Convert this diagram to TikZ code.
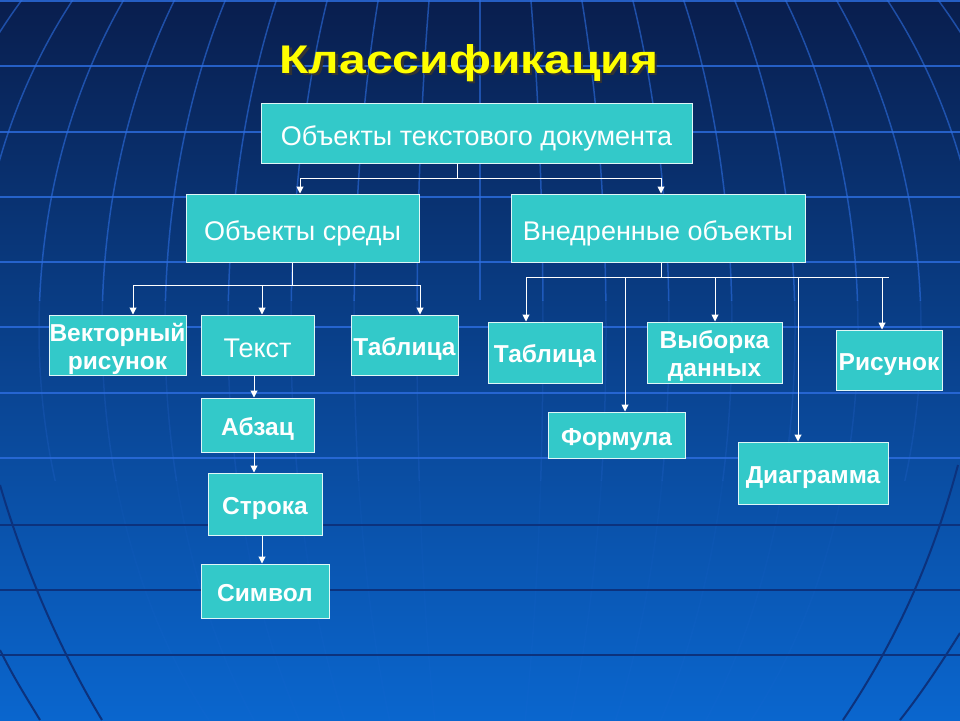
\documentclass[tikz,border=0pt]{standalone}
\usepackage{fontspec}
\setmainfont{Liberation Sans}
\usetikzlibrary{arrows.meta}

\definecolor{boxteal}{RGB}{51,201,201}
\definecolor{bgtop}{RGB}{9,30,78}
\definecolor{bgmid}{RGB}{9,62,148}
\definecolor{bgbot}{RGB}{10,102,206}
\definecolor{gridlight}{RGB}{45,110,225}
\definecolor{griddark}{RGB}{12,50,125}
\definecolor{titleyellow}{RGB}{255,255,0}

\begin{document}
\begin{tikzpicture}[x=1pt, y=-1pt,
  box/.style={draw=white!85!boxteal, line width=1pt, fill=boxteal, text=white,
    align=center, inner sep=0pt, text height=25pt, text depth=1pt,
    font=\fontsize{27}{30}\selectfont},
  bbox/.style={box, text height=22pt, text depth=2pt,
    font=\fontsize{24.5}{28}\selectfont\bfseries},
  bbox2/.style={bbox, text height=50pt},
  link/.style={draw=white, line width=1pt},
  arr/.style={link, -{Triangle[length=7pt,width=7pt]}},
  heading/.style={font=\fontsize{40}{44}\selectfont\bfseries, anchor=base, xscale=1.2}]

  % background
  \useasboundingbox (0,0) rectangle (960,720);
  \shade[top color=bgtop, middle color=bgmid, bottom color=bgbot] (0,0) rectangle (960,720);
  \begin{scope}
    \clip (0,0) rectangle (960,300);
    \foreach \k in {1,...,10} \draw[gridlight, line width=1.5pt, opacity=.6] (480,330) ellipse [x radius=63*\k, y radius=560];
    \draw[gridlight, line width=1.5pt, opacity=.6] (480,0) -- (480,300);
  \end{scope}
  \begin{scope}
    \clip (0,300) rectangle (960,480);
    \foreach \k in {1,...,8} \draw[gridlight, line width=1.5pt, opacity=.2] (480,330) ellipse [x radius=63*\k, y radius=560];
  \end{scope}
  \begin{scope}
    \clip (0,480) rectangle (960,720);
    \foreach \k in {1,...,6} \draw[gridlight, line width=1.5pt, opacity=.08] (480,330) ellipse [x radius=63*\k, y radius=560];
  \end{scope}
  \draw[griddark, line width=2pt] (0,485) .. controls (25,570) and (60,650) .. (102,720);
  \draw[griddark, line width=2pt] (0,650) .. controls (15,680) and (28,700) .. (40,720);
  \draw[griddark, line width=2pt] (958,465) .. controls (930,570) and (890,650) .. (843,720);
  \draw[griddark, line width=2pt] (960,633) .. controls (940,665) and (920,695) .. (900,720);
  \foreach \y in {1,66,132,197,262,327,393,458} \draw[gridlight, line width=2pt, opacity=.8] (0,\y) -- (960,\y);
  \foreach \y in {525,590,655} \draw[griddark, line width=2pt] (0,\y) -- (960,\y);

  % title
  \node[heading, text=titleyellow] (title) at (469,73)
    {\rlap{\hspace{2pt}\raisebox{-2pt}{\color{black!80}Классификация}}Классификация};

  % boxes
  \node[box, minimum width=431pt, minimum height=60pt] (top) at (476.5,133) {Объекты текстового документа};
  \node[box, minimum width=233pt, minimum height=68pt] (env) at (302.5,228) {Объекты среды};
  \node[box, minimum width=294pt, minimum height=68pt] (emb) at (658,228) {Внедренные объекты};

  \node[bbox2, minimum width=137pt, minimum height=60pt] (vec) at (117.5,345) {Векторный\\рисунок};
  \node[box, minimum width=113pt, minimum height=60pt] (txt) at (257.5,345) {Текст};
  \node[bbox, minimum width=107pt, minimum height=60pt] (tab1) at (404.5,345) {Таблица};
  \node[bbox, minimum width=113pt, minimum height=54pt] (par) at (257.5,425) {Абзац};
  \node[bbox, minimum width=114pt, minimum height=62pt] (line) at (265,504) {Строка};
  \node[bbox, minimum width=128pt, minimum height=54pt] (sym) at (265,591) {Символ};

  \node[bbox, minimum width=114pt, minimum height=61pt] (tab2) at (545,352.5) {Таблица};
  \node[bbox2, minimum width=135pt, minimum height=61pt] (sel) at (714.5,352.5) {Выборка\\данных};
  \node[bbox, minimum width=106pt, minimum height=60pt] (pic) at (889,360) {Рисунок};
  \node[bbox, minimum width=137pt, minimum height=46pt] (form) at (616.5,435) {Формула};
  \node[bbox, minimum width=150pt, minimum height=62pt] (diag) at (813,473) {Диаграмма};

  % root to second level
  \coordinate (r0) at (457,178);
  \coordinate (r1) at (300,178);
  \coordinate (r2) at (661,178);
  \draw[link] (top.south -| r0) -- (r0);
  \draw[link] (r1) -- (r2);
  \foreach \c/\n in {r1/env,r2/emb} \draw[arr] (\c) -- (\n.north -| \c);

  % under env
  \coordinate (s0) at (292,285);
  \coordinate (s1) at (133,285);
  \coordinate (s2) at (262,285);
  \coordinate (s3) at (420,285);
  \draw[link] (env.south -| s0) -- (s0);
  \draw[link] (s1) -- (s3);
  \foreach \c/\n in {s1/vec,s2/txt,s3/tab1} \draw[arr] (\c) -- (\n.north -| \c);

  % under emb
  \coordinate (e0) at (661,277);
  \coordinate (e1) at (526,277);
  \coordinate (e2) at (625,277);
  \coordinate (e3) at (715,277);
  \coordinate (e4) at (798,277);
  \coordinate (e5) at (882,277);
  \coordinate (e6) at (889,277);
  \draw[link] (emb.south -| e0) -- (e0);
  \draw[link] (e1) -- (e6);
  \foreach \c/\n in {e1/tab2,e2/form,e3/sel,e4/diag,e5/pic} \draw[arr] (\c) -- (\n.north -| \c);

  % text chain
  \coordinate (c1) at (254,0);
  \coordinate (c2) at (262,0);
  \draw[arr] (txt.south -| c1) -- (par.north -| c1);
  \draw[arr] (par.south -| c1) -- (line.north -| c1);
  \draw[arr] (line.south -| c2) -- (sym.north -| c2);
\end{tikzpicture}
\end{document}
